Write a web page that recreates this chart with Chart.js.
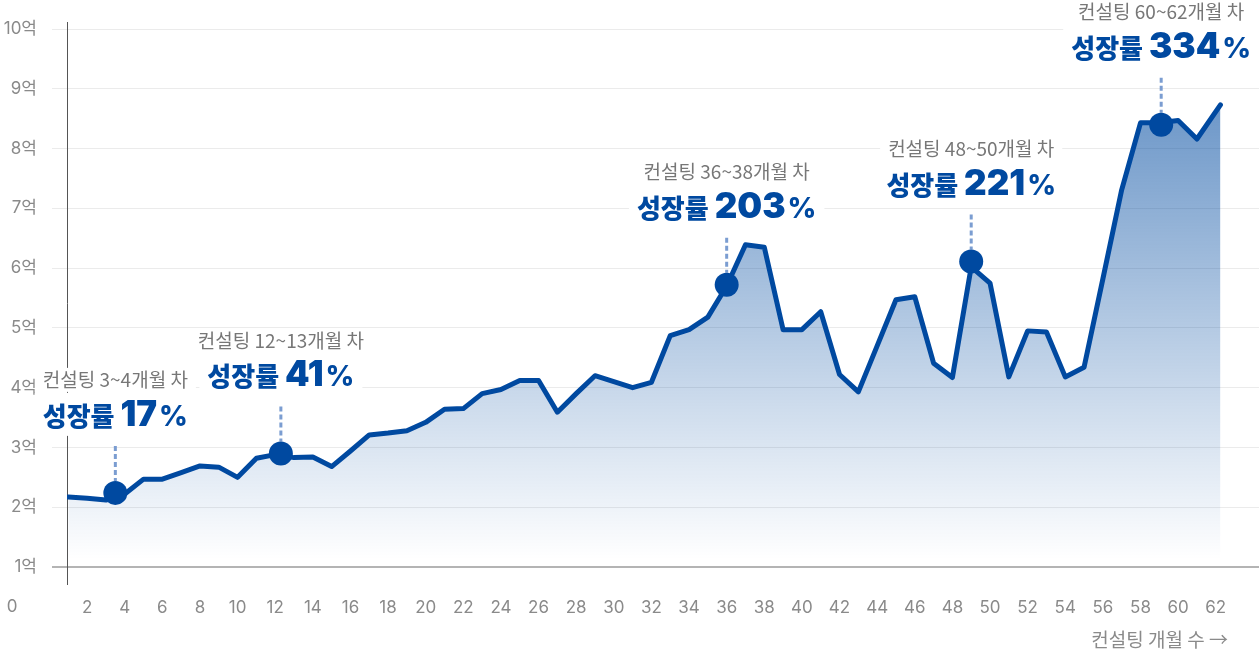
<!DOCTYPE html>
<html lang="ko">
<head>
<meta charset="utf-8">
<script src="https://cdn.jsdelivr.net/npm/chart.js@4.4.1/dist/chart.umd.min.js"></script>
<style>
  html, body { margin: 0; padding: 0; background: #fff; overflow: hidden; }
  #wrap { width: 1259px; height: 654px; position: relative; }
</style>
</head>
<body>
<div id="wrap"><canvas id="chart"></canvas></div>
<script>

// months of consulting and revenue (억)
var months = [1, 2, 3, 4, 5, 6, 7, 8, 9, 10,
	11, 12, 13, 14, 15, 16, 17, 18, 19, 20,
	21, 22, 23, 24, 25, 26, 27, 28, 29, 30,
	31, 32, 33, 34, 35, 36, 37, 38, 39, 40,
	41, 42, 43, 44, 45, 46, 47, 48, 49, 50,
	51, 52, 53, 54, 55, 56, 57, 58, 59, 60,
	61, 62.25];
var revenue = [2.17, 2.15, 2.12, 2.22, 2.47, 2.47, 2.58, 2.69, 2.67, 2.50,
	2.82, 2.88, 2.83, 2.84, 2.68, 2.94, 3.21, 3.24, 3.28, 3.42,
	3.64, 3.65, 3.90, 3.97, 4.12, 4.12, 3.59, 3.90, 4.20, 4.10,
	4.00, 4.09, 4.87, 4.97, 5.18, 5.70, 6.39, 6.35, 4.97, 4.97,
	5.27, 4.22, 3.93, 4.70, 5.47, 5.52, 4.41, 4.17, 6.02, 5.75,
	4.18, 4.95, 4.93, 4.18, 4.34, 5.82, 7.31, 8.43, 8.43, 8.47,
	8.16, 8.73];

// highlighted points
var markMonths = [3.5, 12.3, 36, 49, 59.1];
var markValues = [2.24, 2.90, 5.72, 6.11, 8.40];
var markPeriods = ['3~4', '12~13', '36~38', '48~50', '60~62'];
var markGrowth = ['17', '41', '203', '221', '334'];

var monthTicks = [2, 4, 6, 8, 10, 12, 14, 16, 18, 20, 22, 24, 26, 28, 30,
	32, 34, 36, 38, 40, 42, 44, 46, 48, 50, 52, 54, 56, 58, 60, 62];
var valueTicks = [1, 2, 3, 4, 5, 6, 7, 8, 9, 10];

var blue = '#0049a0',
	tickColor = '#8a8a8a',
	tickFont = 'Inter, "Noto Sans CJK KR", sans-serif',
	krFont = '"Noto Sans CJK KR", sans-serif';

var chart = document.getElementById('chart').getContext('2d'),
	gradient = chart.createLinearGradient(0, 100, 0, 560);
gradient.addColorStop(0, 'rgba(0,74,160,0.58)');
gradient.addColorStop(1, 'rgba(0,74,160,0)');

function noPadding(s) {
	s.paddingLeft = 0;
	s.paddingRight = 0;
	s.paddingTop = 0;
	s.paddingBottom = 0;
}

var decorations = {
	id: 'decorations',
	beforeDatasetsDraw: function(c) {
		var g = c.ctx, xs = c.scales.x, ys = c.scales.y, area = c.chartArea;
		g.save();

		// vertical axis line
		g.strokeStyle = '#555';
		g.lineWidth = 1;
		g.beginPath();
		g.moveTo(area.left + 0.5, area.top - 7);
		g.lineTo(area.left + 0.5, area.bottom + 18);
		g.stroke();

		// origin label + axis title
		g.fillStyle = tickColor;
		g.font = '17px ' + tickFont;
		g.textBaseline = 'middle';
		g.textAlign = 'center';
		g.fillText('0', area.left - 55, area.bottom + 40);
		g.font = '19px ' + krFont;
		g.textAlign = 'right';
		g.fillText('컨설팅 개월 수 →', area.right - 31, area.bottom + 73);

		// callouts
		for (var i = 0; i < markMonths.length; i++) {
			var px = xs.getPixelForValue(markMonths[i]),
				py = ys.getPixelForValue(markValues[i]);

			var label = '컨설팅 ' + markPeriods[i] + '개월 차';
			g.font = '19px ' + krFont;
			var wLabel = g.measureText(label).width;

			var fA = '900 26px ' + krFont,
				fB = '900 35px Inter, ' + krFont,
				fC = '800 28px Inter, ' + krFont;
			g.font = fA; var wA = g.measureText('성장률 ').width;
			g.font = fB; var wB = g.measureText(markGrowth[i]).width + 2;
			g.font = fC; var wC = g.measureText('%').width;
			var wBold = wA + wB + wC;

			// white boxes cut the grid
			g.fillStyle = '#fff';
			g.fillRect(px - wLabel / 2 - 8, py - 125, wLabel + 16, 24);
			g.fillRect(px - wBold / 2 - 8, py - 100, wBold + 16, 43);

			g.fillStyle = '#777';
			g.font = '19px ' + krFont;
			g.textAlign = 'center';
			g.textBaseline = 'middle';
			g.fillText(label, px, py - 113);

			var sx = px - wBold / 2, base = py - 67;
			g.textAlign = 'left';
			g.textBaseline = 'alphabetic';
			g.fillStyle = blue;
			g.font = fA; g.fillText('성장률 ', sx, base);
			g.font = fB; g.fillText(markGrowth[i], sx + wA, base);
			g.font = fC; g.fillText('%', sx + wA + wB, base);

			// dotted connector
			g.strokeStyle = '#7b9dd1';
			g.lineWidth = 3;
			g.setLineDash([5, 3]);
			g.beginPath();
			g.moveTo(px, py - 47);
			g.lineTo(px, py - 12);
			g.stroke();
			g.setLineDash([]);
		}
		g.restore();
	}
};

var data = {
	datasets: [{
		label: 'marks',
		data: markMonths.map(function(m, i) { return {x: m, y: markValues[i]}; }),
		showLine: false,
		pointRadius: 12,
		pointBackgroundColor: blue,
		pointBorderWidth: 0,
		fill: false
	}, {
		label: 'revenue',
		data: months.map(function(m, i) { return {x: m, y: revenue[i]}; }),
		borderColor: blue,
		borderWidth: 5,
		borderJoinStyle: 'round',
		borderCapStyle: 'round',
		backgroundColor: gradient,
		fill: 'start',
		pointRadius: 0,
		tension: 0
	}]
};

var options = {
	responsive: true,
	maintainAspectRatio: false,
	animation: false,
	layout: { autoPadding: false, padding: { top: 29, left: 0, right: 0, bottom: 0 } },
	plugins: {
		legend: { display: false },
		tooltip: { enabled: false }
	},
	scales: {
		x: {
			type: 'linear',
			min: 0.93,
			max: 64.3,
			grid: { display: false, drawTicks: true, tickLength: 31 },
			border: { display: false },
			afterBuildTicks: function(s) { s.ticks = monthTicks.map(function(v) { return {value: v}; }); },
			afterFit: function(s) { s.height = 87; noPadding(s); },
			ticks: {
				color: tickColor,
				font: { size: 17, family: tickFont },
				padding: 0,
				autoSkip: false,
				maxRotation: 0,
				callback: function(v) { return v; }
			}
		},
		y: {
			min: 1,
			max: 10,
			border: { display: false },
			afterBuildTicks: function(s) { s.ticks = valueTicks.map(function(v) { return {value: v}; }); },
			afterFit: function(s) { s.width = 67; noPadding(s); },
			grid: {
				color: function(c) { return c.tick && c.tick.value === 1 ? '#b4b4b4' : '#ebebeb'; },
				lineWidth: function(c) { return c.tick && c.tick.value === 1 ? 2 : 1; },
				tickLength: 15
			},
			ticks: {
				color: tickColor,
				font: { size: 17, family: tickFont },
				padding: 15,
				callback: function(v) { return v + '억'; }
			}
		}
	}
};

var chartInstance = new Chart(chart, {
	type: 'line',
	data: data,
	options: options,
	plugins: [decorations]
});
</script>
</body>
</html>
